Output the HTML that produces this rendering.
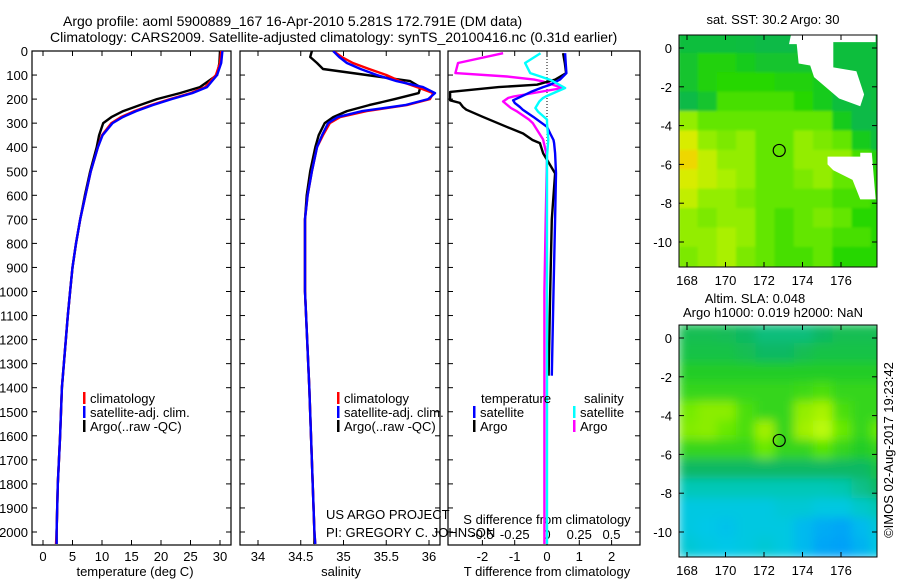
<!DOCTYPE html>
<html><head><meta charset="utf-8"><style>
html,body{margin:0;padding:0;background:#fff}
svg{display:block;font-family:"Liberation Sans",sans-serif}
</style></head><body>
<svg id="c" width="900" height="580" viewBox="0 0 900 580"></svg>
<script>
// ---------- DATA ----------
const depthT = [0,50,100,150,175,200,225,250,275,300,350,400,500,600,700,800,900,1000,1100,1400,1600,1800,2000,2050];
const tempClim = [30.2,30.0,29.3,27.5,25.0,21.5,18.3,15.5,13.2,11.6,10.0,9.3,8.1,7.2,6.3,5.6,5.0,4.6,4.2,3.2,2.9,2.5,2.3,2.2];
const tempSat  = [30.4,30.2,29.5,27.8,25.3,21.8,18.6,15.8,13.5,11.8,10.1,9.3,8.1,7.2,6.3,5.6,5.0,4.6,4.2,3.2,2.9,2.5,2.3,2.3];
const tempArgo = [30.0,29.9,29.5,26.6,23.2,19.3,16.4,13.6,11.6,10.2,9.5,9.1,8.0,7.1,6.3,5.6,5.0,4.6,4.2,3.2,2.9,2.5,2.3,2.3];
const depthS = [0,25,50,75,100,125,150,175,200,225,250,275,300,350,400,500,600,700,1000,1400,2000,2050];
const salClim = [34.88,34.98,35.11,35.3,35.5,35.66,35.86,36.05,36.01,35.74,35.27,34.96,34.84,34.76,34.69,34.63,34.58,34.55,34.55,34.6,34.66,34.67];
const salSat  = [34.88,34.95,35.04,35.2,35.39,35.62,35.93,36.07,35.99,35.72,35.22,34.93,34.82,34.75,34.69,34.63,34.58,34.55,34.55,34.6,34.66,34.67];
const salArgo = [34.63,34.61,34.69,34.76,35.27,35.78,35.9,35.88,35.6,35.3,35.04,34.88,34.78,34.71,34.67,34.61,34.57,34.55,34.55,34.6,34.66,34.66];
const depthD = [9,50,92,119,140,150,170,178,205,216,233,244,273,315,343,370,383,425,509,700,1000,1350];
const dTArgo = [0.5,0.55,0.59,0.25,-0.31,-1.5,-3.0,-3.0,-3.0,-2.7,-2.6,-2.5,-2.0,-1.25,-0.74,-0.45,-0.22,-0.12,0.25,0.15,0.1,0.05];
const dTSat  = [0.56,0.58,0.6,0.4,0.1,-0.12,-0.5,-0.62,-1.05,-1.0,-0.84,-0.75,-0.43,0,0.1,0.2,0.22,0.25,0.28,0.25,0.2,0.15];
const depthDS = [9,50,92,106,119,127,154,189,195,210,237,252,285,300,368,439,700,1000,2050];
const dSArgo = [-0.34,-0.69,-0.71,-0.31,-0.1,-0.03,0.12,-0.26,-0.3,-0.34,-0.28,-0.23,-0.14,-0.11,-0.03,0,-0.01,-0.02,-0.02];
const dSSat  = [-0.05,-0.17,-0.13,-0.05,0.02,0.05,0.14,-0.01,-0.03,-0.06,-0.09,-0.07,0,0,0.01,0,0,0,0];
const depthTicks = [0,100,200,300,400,500,600,700,800,900,1000,1100,1200,1300,1400,1500,1600,1700,1800,1900,2000];
const tempTicks = [0,5,10,15,20,25,30];
const salTicks = [34,34.5,35,35.5,36];
const dTTicks = [-2,-1,0,1,2];
const dSTickLabels = ["-0.5","-0.25","0","0.25","0.5"];
const dSTicks = [-0.5,-0.25,0,0.25,0.5];
const lonTicks = [168,170,172,174,176];
const latTicks = [0,-2,-4,-6,-8,-10];
const argoPos = [172.791,-5.281];
const sstGrid = [
[.3,.3,.3,.28,.25,.25,.3,.3,.3,.3,.3],
[.35,.45,.45,.4,.35,.35,.35,.3,.3,.3,.3],
[.35,.45,.5,.5,.5,.45,.45,.4,.35,.3,.3],
[.25,.35,.55,.55,.55,.55,.5,.4,.3,.25,.3],
[.7,.6,.6,.6,.6,.6,.6,.6,.4,.25,.25],
[.85,.7,.65,.7,.6,.6,.7,.65,.6,.4,.3],
[.92,.8,.7,.7,.6,.6,.7,.7,.7,.55,.45],
[.85,.8,.75,.7,.6,.6,.65,.7,.6,.6,.5],
[.8,.7,.7,.65,.6,.6,.6,.6,.55,.55,.5],
[.7,.65,.7,.7,.6,.55,.6,.65,.6,.5,.5],
[.7,.7,.75,.7,.6,.55,.6,.6,.55,.55,.5],
[.65,.7,.75,.65,.6,.55,.55,.6,.5,.5,.5]];
const slaGrid = [
[.48,.48,.47,.45,.42,.42,.42,.45,.48,.48,.48],
[.5,.5,.5,.48,.45,.45,.48,.5,.5,.5,.5],
[.55,.55,.55,.55,.55,.55,.55,.55,.55,.55,.55],
[.6,.6,.6,.6,.6,.6,.62,.65,.6,.6,.6],
[.75,.8,.8,.65,.6,.6,.82,.88,.65,.6,.6],
[.78,.8,.72,.65,.85,.6,.85,.95,.72,.6,.72],
[.6,.6,.6,.6,.72,.6,.6,.68,.6,.55,.6],
[.45,.45,.45,.45,.45,.45,.45,.45,.45,.45,.5],
[.33,.33,.33,.33,.33,.33,.33,.33,.35,.4,.45],
[.22,.22,.22,.22,.22,.25,.25,.22,.22,.28,.35],
[.22,.2,.18,.22,.22,.22,.15,.1,.08,.15,.25],
[.25,.22,.2,.22,.25,.22,.15,.08,.06,.12,.22]];

// ---------- HELPERS ----------
const NS="http://www.w3.org/2000/svg", svg=document.getElementById('c');
function mk(tag,at,parent){const e=document.createElementNS(NS,tag);for(const k in at)e.setAttribute(k,at[k]);(parent||svg).appendChild(e);return e;}
function txt(s,x,y,at,parent){const e=mk('text',Object.assign({x:x,y:y,'font-size':13,fill:'#000'},at||{}),parent);e.textContent=s;return e;}
const yD=d=>51+0.2405*d;
const xT=t=>43+5.9*t;
const xS=s=>258+85.5*(s-34);
const xDT=v=>547+32.3*v;
const xDS=v=>547+129*v;
function line(xs,ys,color,name,clip){
  let d='';for(let i=0;i<xs.length;i++)d+=(i?'L':'M')+xs[i].toFixed(1)+' '+ys[i].toFixed(1);
  const p=mk('path',{d:d,fill:'none',stroke:color,'stroke-width':2.4,'stroke-linejoin':'round'});
  if(clip)p.setAttribute('clip-path','url(#'+clip+')');
  
  
  return p;
}
const defs=mk('defs',{});
function clipRect(id,x,y,w,h){const c=mk('clipPath',{id:id},defs);mk('rect',{x:x,y:y,width:w,height:h},c);}
clipRect('cp1',32,51,199,494);clipRect('cp2',240,51,200,494);clipRect('cp3',448,51,192,494);
clipRect('cm1',679,35,198,232);clipRect('cm2',679,325,198,232);

// ---------- TITLES ----------
let t1=txt('Argo profile: aoml 5900889_167 16-Apr-2010 5.281S 172.791E (DM data)',63,26,{'font-size':14});

let t2=txt('Climatology: CARS2009. Satellite-adjusted climatology: synTS_20100416.nc (0.31d earlier)',50,42,{'font-size':14});


// ---------- PANEL FRAMES & TICKS ----------
function panel(x0,x1,name){
  const r=mk('rect',{x:x0,y:51,width:x1-x0,height:494,fill:'none',stroke:'#000','stroke-width':1.2});
  
  depthTicks.forEach(d=>{mk('line',{x1:x0,x2:x0+5,y1:yD(d),y2:yD(d),stroke:'#000'});mk('line',{x1:x1-5,x2:x1,y1:yD(d),y2:yD(d),stroke:'#000'});});
}
panel(32,231,'temperature-panel');panel(240,440,'salinity-panel');panel(448,640,'difference-panel');
depthTicks.forEach(d=>{const e=txt(String(d),28,yD(d)+5,{'text-anchor':'end'});});
function xticks(vals,labels,f,yb,name){vals.forEach((v,i)=>{const x=f(v);mk('line',{x1:x,x2:x,y1:545,y2:540,stroke:'#000'});mk('line',{x1:x,x2:x,y1:51,y2:56,stroke:'#000'});
  const e=txt(labels[i],x,yb,{'text-anchor':'middle'});});}
xticks(tempTicks,tempTicks.map(String),xT,561,'temperature-tick-label');
xticks(salTicks,salTicks.map(String),xS,561,'salinity-tick-label');
xticks(dTTicks,dTTicks.map(String),xDT,561,'t-diff-tick-label');
dSTicks.forEach((v,i)=>{const e=txt(dSTickLabels[i],xDS(v),539,{'text-anchor':'middle'});});
[['temperature (deg C)',135,'temperature-axis-title'],['salinity',341,'salinity-axis-title'],['T difference from climatology',547,'t-diff-axis-title']].forEach(a=>{const e=txt(a[0],a[1],576,{'text-anchor':'middle'});});
let sdt=txt('S difference from climatology',547,524,{'text-anchor':'middle'});
mk('line',{x1:547,x2:547,y1:53,y2:150,stroke:'#000','stroke-dasharray':'1,2'});

// ---------- SERIES ----------
line(tempArgo.map(xT),depthT.map(yD),'#000','temp-argo-line','cp1');
line(tempClim.map(xT),depthT.map(yD),'#f00','temp-climatology-line','cp1');
line(tempSat.map(xT),depthT.map(yD),'#00f','temp-satellite-line','cp1');
line(salArgo.map(xS),depthS.map(yD),'#000','salinity-argo-line','cp2');
line(salClim.map(xS),depthS.map(yD),'#f00','salinity-climatology-line','cp2');
line(salSat.map(xS),depthS.map(yD),'#00f','salinity-satellite-line','cp2');
line(dSArgo.map(xDS),depthDS.map(yD),'#f0f','s-diff-argo-line','cp3');
line(dTArgo.map(xDT),depthD.map(yD),'#000','t-diff-argo-line','cp3');
line(dTSat.map(xDT),depthD.map(yD),'#00f','t-diff-satellite-line','cp3');
line(dSSat.map(xDS),depthDS.map(yD),'#0ff','s-diff-satellite-line','cp3');

// ---------- LEGENDS ----------
function legend(x,y,color,label,name){const g=mk('g',{});
  mk('rect',{x:x,y:y-11,width:2.5,height:12,fill:color},g);txt(label,x+7,y,{},g);}
[[83,'legend-temp'],[337,'legend-salinity']].forEach(a=>{
  legend(a[0],403,'#f00','climatology',a[1]+'-climatology');
  legend(a[0],417,'#00f','satellite-adj. clim.',a[1]+'-satellite');
  legend(a[0],431,'#000','Argo(..raw -QC)',a[1]+'-argo');});
let lt=txt('temperature',481,403,{});
let ls=txt('salinity',584,403,{});
legend(473,417,'#00f','satellite','legend-diff-t-satellite');
legend(473,431,'#000','Argo','legend-diff-t-argo');
legend(573,417,'#0ff','satellite','legend-diff-s-satellite');
legend(573,431,'#f0f','Argo','legend-diff-s-argo');
let us=txt('US ARGO PROJECT',326,519,{});
let pi=txt('PI: GREGORY C. JOHNSON',326,537,{});

// ---------- MAPS ----------
function lerpCol(stops,v){v=Math.max(0,Math.min(1,v));for(let i=1;i<stops.length;i++){if(v<=stops[i][0]){const a=stops[i-1],b=stops[i],t=(v-a[0])/(b[0]-a[0]);
  const c=[0,1,2].map(k=>Math.round(a[1][k]+(b[1][k]-a[1][k])*t));return 'rgb('+c.join(',')+')';}}return 'rgb('+stops[stops.length-1][1].join(',')+')';}
const sstStops=[[0,[0,168,128]],[0.3,[10,190,60]],[0.5,[40,215,0]],[0.6,[100,230,0]],[0.75,[170,240,0]],[0.88,[230,235,0]],[1,[255,176,0]]];
const slaStops=[[0,[0,144,255]],[0.2,[0,200,232]],[0.35,[0,200,176]],[0.45,[16,184,100]],[0.55,[32,204,40]],[0.7,[96,232,0]],[0.85,[160,240,0]],[1,[200,255,20]]];
function map(y0,lat0y,grid,stops,blur,name){
  const xL=lo=>687+19.25*(lo-168), yL=la=>lat0y-19.4*la;
  const g=mk('g',{'clip-path':'url(#'+(y0<100?'cm1':'cm2')+')'});
  
  const inner=mk('g',blur?{filter:'url(#'+blur+')'}:{},g);
  const rows=grid.length, cols=grid[0].length;
  for(let r=0;r<rows;r++)for(let c=0;c<cols;c++){
    const lo=167.6+c*1.0, la=0.7-r*1.0;
    mk('rect',{x:xL(lo)-1,y:yL(la)-1,width:19.25+2,height:19.4+2,fill:lerpCol(stops,grid[r][c])},inner);}
  const fr=mk('rect',{x:679,y:y0,width:198,height:232,fill:'none',stroke:'#000'});
  
  latTicks.forEach(la=>{const y=yL(la);mk('line',{x1:679,x2:684,y1:y,y2:y,stroke:'#000'});mk('line',{x1:872,x2:877,y1:y,y2:y,stroke:'#000'});
    const e=txt(String(la),672,y+5,{'text-anchor':'end'});});
  lonTicks.forEach(lo=>{const x=xL(lo);mk('line',{x1:x,x2:x,y1:y0+232,y2:y0+227,stroke:'#000'});mk('line',{x1:x,x2:x,y1:y0,y2:y0+5,stroke:'#000'});
    const e=txt(String(lo),x,y0+250,{'text-anchor':'middle'});});
  const ci=mk('circle',{cx:xL(argoPos[0]),cy:yL(argoPos[1]),r:6,fill:'none',stroke:'#000','stroke-width':1.2});
  
  return {xL,yL,g};
}
const fl=mk('filter',{id:'blurSla',x:'-10%',y:'-10%',width:'120%',height:'120%'},defs);mk('feGaussianBlur',{stdDeviation:5},fl);
const fl2=mk('filter',{id:'blurSst'},defs);mk('feGaussianBlur',{stdDeviation:1.2},fl2);
const m1=map(35,48,sstGrid,sstStops,'blurSst','sst-map');
const nd1=mk('path',{d:'M'+[[m1.xL(173.4),35],[m1.xL(177.8),35],[m1.xL(177.8),m1.yL(0.3)],[m1.xL(175.6),m1.yL(0.3)],[m1.xL(175.6),m1.yL(-1)],[m1.xL(176.8),m1.yL(-1.2)],[m1.xL(177.2),m1.yL(-2.4)],[m1.xL(177),m1.yL(-3)],[m1.xL(175.9),m1.yL(-2.6)],[m1.xL(174.6),m1.yL(-1.5)],[m1.xL(174.4),m1.yL(-0.9)],[m1.xL(173.8),m1.yL(-0.8)],[m1.xL(173.7),m1.yL(0.2)],[m1.xL(173.3),m1.yL(0.2)]].map(p=>p.join(' ')).join('L')+'Z',fill:'#fff'},m1.g);

const nd2=mk('path',{d:'M'+[[m1.xL(175.3),m1.yL(-5.6)],[m1.xL(177),m1.yL(-5.6)],[m1.xL(177),m1.yL(-5.4)],[m1.xL(177.6),m1.yL(-5.4)],[m1.xL(177.8),m1.yL(-7.8)],[m1.xL(177),m1.yL(-7.8)],[m1.xL(176.6),m1.yL(-6.8)],[m1.xL(175.6),m1.yL(-6.3)],[m1.xL(175.3),m1.yL(-6.0)]].map(p=>p.join(' ')).join('L')+'Z',fill:'#fff'},m1.g);

const m2=map(325,338,slaGrid,slaStops,'blurSla','sla-map');
let st=txt('sat. SST: 30.2  Argo: 30',773,24,{'text-anchor':'middle'});
let at=txt('Altim. SLA: 0.048',755,303,{'text-anchor':'middle'});
let ah=txt('Argo h1000: 0.019 h2000: NaN',773,317,{'text-anchor':'middle'});
let cr=txt('©IMOS 02-Aug-2017 19:23:42',0,0,{'text-anchor':'middle',transform:'translate(893,450) rotate(-90)'});
</script>
</body></html>
